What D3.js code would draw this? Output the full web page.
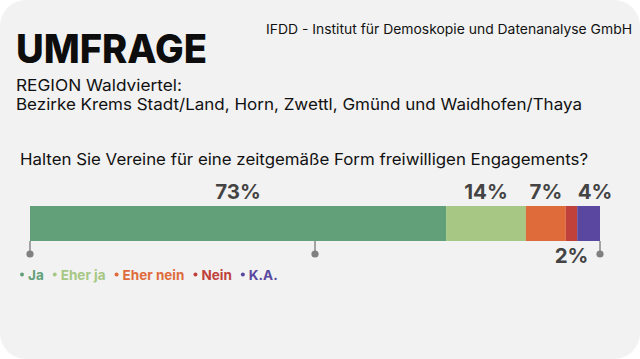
<!DOCTYPE html>
<html><head><meta charset="utf-8">
<script src="https://cdn.jsdelivr.net/npm/d3@7"></script>
<style>
html,body{margin:0;padding:0;background:#fff;}
svg{display:block;}
</style></head>
<body>
<svg id="c" width="640" height="359"></svg>
<script>
const categories = ["Ja", "Eher ja", "Eher nein", "Nein", "K.A."];
const values = [73, 14, 7, 2, 4];
const colors = ["#62a07a", "#a6c884", "#df6b3b", "#c0413b", "#5a47a0"];
const labelSide = ["above", "above", "above", "below", "above"];
const tickValues = [0, 50, 100];

const FONT = "Inter, 'Open Sans', sans-serif";
const svg = d3.select("#c");

svg.append("rect").attr("x",0).attr("y",0).attr("width",640).attr("height",359)
  .attr("rx",26).attr("ry",26).attr("fill","#f2f2f2");

function fitText(sel, w){ sel.attr("textLength", w).attr("lengthAdjust","spacingAndGlyphs"); return sel; }

fitText(svg.append("text").attr("x",16).attr("y",63).text("UMFRAGE")
  .attr("font-family",FONT).attr("font-weight",800).attr("font-size",40).attr("fill","#0d0d0d"), 191);

fitText(svg.append("text").attr("x",266).attr("y",34)
  .text("IFDD - Institut für Demoskopie und Datenanalyse GmbH")
  .attr("font-family",FONT).attr("font-size",13.2).attr("fill","#111"), 366);

fitText(svg.append("text").attr("x",16).attr("y",91).text("REGION Waldviertel:")
  .attr("font-family",FONT).attr("font-size",16.3).attr("fill","#111"), 166);
fitText(svg.append("text").attr("x",16).attr("y",110)
  .text("Bezirke Krems Stadt/Land, Horn, Zwettl, Gmünd und Waidhofen/Thaya")
  .attr("font-family",FONT).attr("font-size",16.3).attr("fill","#111"), 566);

fitText(svg.append("text").attr("x",20).attr("y",165)
  .text("Halten Sie Vereine für eine zeitgemäße Form freiwilligen Engagements?")
  .attr("font-family",FONT).attr("font-size",16).attr("fill","#111"), 568);

const x = d3.scaleLinear().domain([0,100]).range([30,600]);
const barY = 206, barH = 35;

let cum = 0;
const segs = values.map((v,i)=>{ const s={cat:categories[i], v, x0:cum, x1:cum+v, color:colors[i], side:labelSide[i], last:i===values.length-1}; cum+=v; return s; });

// ticks
const tg = svg.append("g");
tickValues.forEach(t=>{
  tg.append("line").attr("x1",x(t)).attr("x2",x(t)).attr("y1",barY+barH).attr("y2",254)
    .attr("stroke","#888").attr("stroke-width",1.5);
  tg.append("circle").attr("cx",x(t)).attr("cy",254).attr("r",3.6).attr("fill","#808080");
});

svg.append("g").selectAll("rect").data(segs).join("rect")
  .attr("x",d=>x(d.x0)).attr("y",barY).attr("width",d=>x(d.x1)-x(d.x0)).attr("height",barH)
  .attr("fill",d=>d.color);

svg.append("g").selectAll("text").data(segs).join("text")
  .attr("x",d=> d.last ? x(d.x1)-5 : (x(d.x0)+x(d.x1))/2)
  .attr("y",d=>d.side==="above"?199:263)
  .attr("text-anchor","middle")
  .attr("font-family",FONT).attr("font-weight",700).attr("font-size",20.5).attr("fill","#444")
  .text(d=>d.v+"%");

// legend
const leg = svg.append("g");
let lx = 20;
categories.forEach((c,i)=>{
  leg.append("circle").attr("cx",lx+2).attr("cy",274.5).attr("r",2).attr("fill",colors[i]);
  const t = leg.append("text").attr("x",lx+8).attr("y",279.5).text(c)
    .attr("font-family",FONT).attr("font-weight",700).attr("font-size",13.5).attr("fill",colors[i]);
  lx += 8 + t.node().getComputedTextLength() + 9;
});
</script>
</body></html>
